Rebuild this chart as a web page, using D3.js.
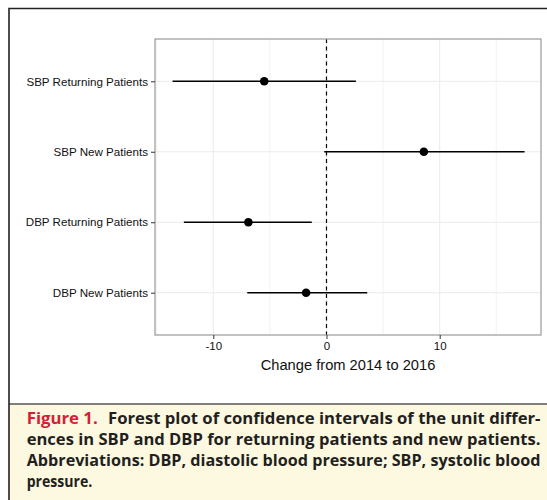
<!DOCTYPE html>
<html lang="en">
<head>
<meta charset="UTF-8">
<style>
  body { margin: 0; background: #fff; }
  svg { display: block; }
</style>
</head>
<body>
<svg id="chart" width="547" height="500"></svg>
<script src="https://d3js.org/d3.v7.min.js"></script>
<script>
// Data
var groups = ["SBP Returning Patients", "SBP New Patients", "DBP Returning Patients", "DBP New Patients"];
var estimates = [-5.5, 8.6, -6.9, -1.8];
var lowers = [-13.6, -0.2, -12.6, -7.0];
var uppers = [2.6, 17.5, -1.3, 3.6];
var xTicks = [-10, 0, 10];
var xMinor = [-15, -5, 5, 15];
var xTitle = "Change from 2014 to 2016";
var captionLabel = "Figure 1.";
var captionLines = [
  "Forest plot of confidence intervals of the unit differ-",
  "ences in SBP and DBP for returning patients and new patients.",
  "Abbreviations: DBP, diastolic blood pressure; SBP, systolic blood",
  "pressure."
];

var rows = groups.map(function(g, i) {
  return { name: g, est: estimates[i], lo: lowers[i], hi: uppers[i] };
});

var svg = d3.select("#chart");
var sans = "Liberation Sans, Arial, sans-serif";

// outer frame
svg.append("rect").attr("x", 0).attr("y", 0).attr("width", 547).attr("height", 500).attr("fill", "#fff");
svg.append("rect").attr("x", 9).attr("y", 404).attr("width", 545).attr("height", 100).attr("fill", "#fdf9e1");
svg.append("line").attr("x1", 9).attr("x2", 547).attr("y1", 404).attr("y2", 404)
  .attr("stroke", "#555").attr("stroke-width", 1.5);
svg.append("path").attr("d", "M9,501V8.5H548").attr("fill", "none")
  .attr("stroke", "#222").attr("stroke-width", 1.6);

// panel
var pLeft = 155, pRight = 541, pTop = 39, pBottom = 335;

var x = d3.scaleLinear().domain([-15.15, 18.95]).range([pLeft, pRight]);
var y = d3.scalePoint().domain(groups).range([pTop, pBottom]).padding(0.6);

var g = svg.append("g");

// grid
g.selectAll(".minor").data(xMinor).enter().append("line")
  .attr("x1", d => x(d)).attr("x2", d => x(d)).attr("y1", pTop).attr("y2", pBottom)
  .attr("stroke", "#f2f2f2").attr("stroke-width", 1);
g.selectAll(".major").data(xTicks).enter().append("line")
  .attr("x1", d => x(d)).attr("x2", d => x(d)).attr("y1", pTop).attr("y2", pBottom)
  .attr("stroke", "#ebebeb").attr("stroke-width", 1);
g.selectAll(".hgrid").data(groups).enter().append("line")
  .attr("x1", pLeft).attr("x2", pRight).attr("y1", d => y(d)).attr("y2", d => y(d))
  .attr("stroke", "#ebebeb").attr("stroke-width", 1);

// reference line at zero
g.append("line")
  .attr("x1", x(0)).attr("x2", x(0)).attr("y1", pTop).attr("y2", pBottom)
  .attr("stroke", "#000").attr("stroke-width", 1.2).attr("stroke-dasharray", "4,3.5");

// intervals
g.selectAll(".ci").data(rows).enter().append("line")
  .attr("x1", d => x(d.lo)).attr("x2", d => x(d.hi))
  .attr("y1", d => y(d.name)).attr("y2", d => y(d.name))
  .attr("stroke", "#000").attr("stroke-width", 1.4);
g.selectAll(".pt").data(rows).enter().append("circle")
  .attr("cx", d => x(d.est)).attr("cy", d => y(d.name)).attr("r", 4.3)
  .attr("fill", "#000");

// panel border
g.append("rect").attr("x", pLeft).attr("y", pTop).attr("width", pRight - pLeft).attr("height", pBottom - pTop)
  .attr("fill", "none").attr("stroke", "#999").attr("stroke-width", 1.2);

// axes
var xAxis = d3.axisBottom(x).tickValues(xTicks).tickFormat(d => String(d))
  .tickSize(4).tickPadding(3).tickSizeOuter(0);
var ax = svg.append("g").attr("transform", "translate(0," + pBottom + ")").call(xAxis);
ax.select(".domain").remove();
ax.selectAll("line").attr("stroke", "#333");
ax.selectAll("text").attr("fill", "#111").style("font-family", sans).style("font-size", "11.5px");

var yAxis = d3.axisLeft(y).tickSize(4).tickPadding(3).tickSizeOuter(0);
var ay = svg.append("g").attr("transform", "translate(" + pLeft + ",0)").call(yAxis);
ay.select(".domain").remove();
ay.selectAll("line").attr("stroke", "#333");
ay.selectAll("text").attr("fill", "#111").style("font-family", sans).style("font-size", "11.6px");

svg.append("text").attr("x", (pLeft + pRight) / 2).attr("y", 370).attr("text-anchor", "middle")
  .style("font-family", sans).style("font-size", "14.7px").attr("fill", "#111")
  .text(xTitle);

// caption
var capFont = "Open Sans, sans-serif";
function capText(str, xPos, yPos, width, color) {
  var t = svg.append("text").attr("x", xPos).attr("y", yPos)
    .style("font-family", capFont).style("font-weight", "bold").style("font-size", "16px")
    .attr("fill", color).text(str);
  if (width) t.attr("textLength", width).attr("lengthAdjust", "spacingAndGlyphs");
  return t;
}
var capX = 26.7, capRight = 540.5, capY0 = 423.5, capStep = 21.3;
capText(captionLabel, capX, capY0, 71, "#d1213a");
captionLines.forEach(function(line, i) {
  var x0 = i === 0 ? 108 : capX;
  var w = i < 3 ? capRight - x0 : null;
  var t = capText(line, x0, capY0 + i * capStep, w, "#231f20");
  if (!w) {
    // natural width squeezed like the others
    var nat = t.node().getComputedTextLength();
    t.attr("textLength", nat * 0.88).attr("lengthAdjust", "spacingAndGlyphs");
  }
});
</script>
</body>
</html>
